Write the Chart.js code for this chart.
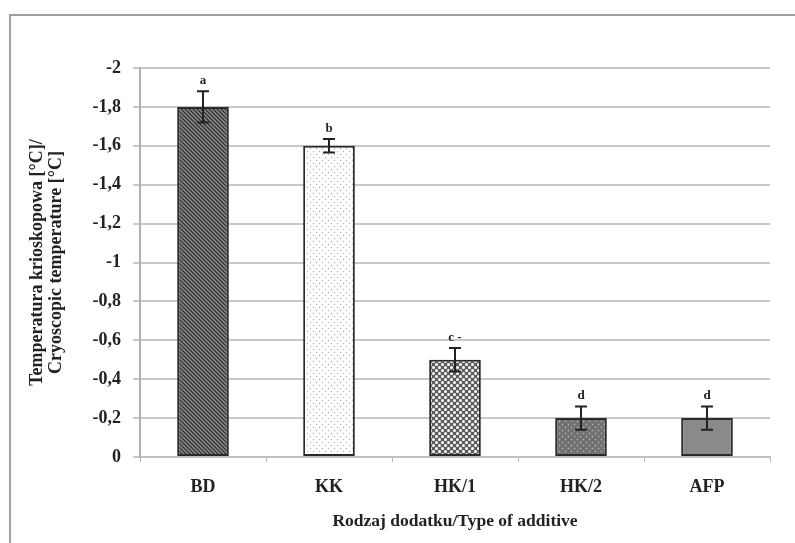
<!DOCTYPE html>
<html>
<head>
<meta charset="utf-8">
<script src="https://cdn.jsdelivr.net/npm/chart.js@4"></script>
<style>
  html, body { margin: 0; padding: 0; background: #fff; }
  #wrap { width: 795px; height: 543px; position: relative; }
</style>
</head>
<body>
<div id="wrap"><canvas id="c" width="795" height="543"></canvas></div>
<script>
// data
const categories = ['BD', 'KK', 'HK/1', 'HK/2', 'AFP'];
const temps = [-1.8, -1.6, -0.5, -0.2, -0.2];
const errors = [0.08, 0.035, 0.06, 0.06, 0.06];
const letters = ['a', 'b', 'c -', 'd', 'd'];

const serif = '"Liberation Serif", "Times New Roman", serif';
const canvas = document.getElementById('c');
const ctx = canvas.getContext('2d');

// pattern fills
function makePattern(size, bg, draw) {
    const tile = document.createElement('canvas');
    tile.width = tile.height = size;
    const g = tile.getContext('2d');
    g.fillStyle = bg;
    g.fillRect(0, 0, size, size);
    if (draw) draw(g, size);
    return ctx.createPattern(tile, 'repeat');
}
function dots(color, r) {
    return function (g, s) {
        g.fillStyle = color;
        [[s / 4, s / 4], [3 * s / 4, 3 * s / 4]].forEach(p => {
            g.beginPath();
            g.arc(p[0], p[1], r, 0, Math.PI * 2);
            g.fill();
        });
    };
}
const fills = [
    makePattern(4, '#8a8a8a', function (g, s) {
        g.strokeStyle = '#333';
        g.lineWidth = 1.3;
        g.beginPath();
        g.moveTo(-1, -1); g.lineTo(s + 1, s + 1);
        g.moveTo(-1, s - 1); g.lineTo(1, s + 1);
        g.moveTo(s - 1, -1); g.lineTo(s + 1, 1);
        g.stroke();
    }),
    makePattern(6, '#ffffff', dots('#b0b0b0', 0.7)),
    makePattern(6, '#5c5c5c', dots('#ffffff', 1.5)),
    makePattern(6, '#707070', dots('#a8a8a8', 0.9)),
    '#8a8a8a'
];

function fmt(v) {
    const n = Math.round(v * 10) / 10;
    if (n === 0) return '0';
    return String(n).replace('.', ',');
}

// frame, error bars and letters
const extras = {
    id: 'extras',
    beforeDraw(chart) {
        const c = chart.ctx;
        c.save();
        c.fillStyle = '#fff';
        c.fillRect(0, 0, chart.width, chart.height);
        c.strokeStyle = '#a0a0a0';
        c.lineWidth = 2;
        c.beginPath();
        c.moveTo(10, chart.height + 2);
        c.lineTo(10, 15);
        c.lineTo(chart.width + 2, 15);
        c.stroke();
        c.restore();
    },
    afterDatasetsDraw(chart) {
        const c = chart.ctx;
        const y = chart.scales.y;
        const meta = chart.getDatasetMeta(0);
        c.save();
        c.strokeStyle = '#222';
        c.lineWidth = 2;
        c.fillStyle = '#222';
        c.font = 'bold 13px ' + serif;
        c.textAlign = 'center';
        c.textBaseline = 'bottom';
        meta.data.forEach((bar, i) => {
            const x = bar.x;
            const top = y.getPixelForValue(temps[i] - errors[i]);
            const bot = y.getPixelForValue(temps[i] + errors[i]);
            c.beginPath();
            c.moveTo(x, top); c.lineTo(x, bot);
            c.moveTo(x - 6, top); c.lineTo(x + 6, top);
            c.moveTo(x - 6, bot); c.lineTo(x + 6, bot);
            c.stroke();
            c.fillText(letters[i], x, top - 4);
        });
        c.restore();
    }
};

new Chart(canvas, {
    type: 'bar',
    data: {
        labels: categories,
        datasets: [{
            data: temps,
            backgroundColor: fills,
            borderColor: '#2a2a2a',
            borderWidth: 2,
            borderSkipped: false,
            categoryPercentage: 1,
            barPercentage: 0.41
        }]
    },
    options: {
        responsive: false,
        animation: false,
        layout: { padding: { left: 10, top: 68, right: 25, bottom: 0 } },
        plugins: {
            legend: { display: false },
            tooltip: { enabled: false }
        },
        scales: {
            x: {
                afterFit: function (scale) { scale.height = 86; },
                grid: {
                    drawOnChartArea: false,
                    color: '#b8b8b8',
                    lineWidth: 1,
                    tickLength: 5
                },
                border: { display: true, color: '#c0c0c0', width: 2 },
                ticks: {
                    color: '#222',
                    padding: 15,
                    font: { family: serif, size: 18, weight: 'bold' }
                },
                title: {
                    display: true,
                    text: 'Rodzaj dodatku/Type of additive',
                    color: '#222',
                    padding: { top: 0, bottom: 12 },
                    font: { family: serif, size: 17.5, weight: 'bold', lineHeight: 1.1 }
                }
            },
            y: {
                reverse: true,
                min: -2,
                max: 0,
                afterFit: function (scale) { scale.width = 130; },
                grid: {
                    color: '#c8c8c8',
                    lineWidth: 2,
                    tickLength: 7
                },
                border: { display: true, color: '#b0b0b0', width: 2 },
                ticks: {
                    stepSize: 0.2,
                    color: '#222',
                    padding: 12,
                    font: { family: serif, size: 18, weight: 'bold' },
                    callback: fmt
                },
                title: {
                    display: true,
                    text: ['Temperatura krioskopowa [°C]/', 'Cryoscopic temperature [°C]'],
                    color: '#222',
                    padding: { top: 17, bottom: 0 },
                    font: { family: serif, size: 18, weight: 'bold', lineHeight: 1.1 }
                }
            }
        }
    },
    plugins: [extras]
});
</script>
</body>
</html>
